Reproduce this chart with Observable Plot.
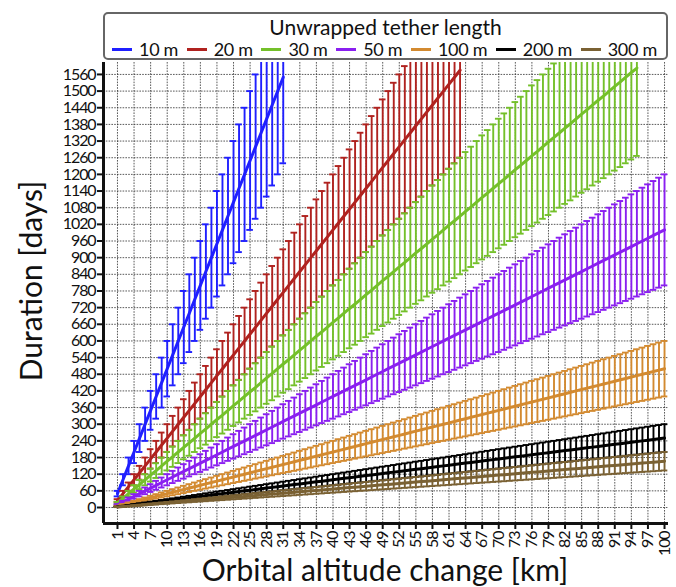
<!DOCTYPE html>
<html>
<head>
<meta charset="utf-8">
<script src="https://cdn.jsdelivr.net/npm/d3@7"></script>
<script src="https://cdn.jsdelivr.net/npm/@observablehq/plot@0.6"></script>
<style>
  body { margin: 0; background: #fff; }
  #wrap { position: relative; width: 676px; height: 587px; font-family: Lato, "Open Sans", sans-serif; color: #111; }
  #legend { position: absolute; left: 103px; top: 12px; width: 561px; height: 44px; border: 2px solid #666; border-radius: 5px; background: #fff; }
  #legend .title { position: absolute; left: 0; right: 0; top: 1px; text-align: center; font-size: 21px; line-height: 24px; }
  #legend .items { position: absolute; left: 7px; right: 9px; top: 25px; display: flex; justify-content: space-between; font-size: 18px; line-height: 20px; letter-spacing: -0.3px; }
  #legend .item { display: flex; align-items: center; gap: 7px; }
  #legend .sw { width: 20px; height: 3px; }
  .axlabel { position: absolute; font-size: 30px; line-height: 30px; white-space: nowrap; color: #111; }
  #ylab { left: 30px; top: 281px; transform: translate(-50%, -50%) rotate(-90deg); }
  #xlab { left: 385px; top: 569px; transform: translate(-50%, -50%); }
  svg g[aria-label="y-axis tick label"] text, svg g[aria-label="x-axis tick label"] text { letter-spacing: -1.1px; }
</style>
</head>
<body>
<div id="wrap">
  <div id="chart"></div>
  <div id="legend"><div class="title">Unwrapped tether length</div><div class="items" id="items"></div></div>
  <div class="axlabel" id="ylab">Duration [days]</div>
  <div class="axlabel" id="xlab">Orbital altitude change [km]</div>
</div>
<script>
// ---- data ----
const altitudeKm = [1,2,3,4,5,6,7,8,9,10,11,12,13,14,15,16,17,18,19,20,21,22,23,24,25,26,27,28,29,30,31,32,33,34,35,36,37,38,39,40,41,42,43,44,45,46,47,48,49,50,51,52,53,54,55,56,57,58,59,60,61,62,63,64,65,66,67,68,69,70,71,72,73,74,75,76,77,78,79,80,81,82,83,84,85,86,87,88,89,90,91,92,93,94,95,96,97,98,99,100];

const seriesNames = ["10 m", "20 m", "30 m", "50 m", "100 m", "200 m", "300 m"];
const seriesColors = ["#1f1fff", "#b0221f", "#74c02a", "#8a1ff0", "#d38a30", "#000000", "#7a6133"];

// mean duration [days] per km of altitude change (starting at 1 km)
const dur10 = [50,100,150,200,250,300,350,400,450,500,550,600,650,700,750,800,850,900,950,1000,1050,1100,1150,1200,1250,1300,1350,1400,1450,1500,1550];
const dur20 = [25,50,75,100,125,150,175,200,225,250,275,300,325,350,375,400,425,450,475,500,525,550,575,600,625,650,675,700,725,750,775,800,825,850,875,900,925,950,975,1000,1025,1050,1075,1100,1125,1150,1175,1200,1225,1250,1275,1300,1325,1350,1375,1400,1425,1450,1475,1500,1525,1550,1575];
const dur30 = [17,33,50,67,83,100,117,133,150,167,183,200,217,233,250,267,283,300,317,333,350,367,383,400,417,433,450,467,483,500,517,533,550,567,583,600,617,633,650,667,683,700,717,733,750,767,783,800,817,833,850,867,883,900,917,933,950,967,983,1000,1017,1033,1050,1067,1083,1100,1117,1133,1150,1167,1183,1200,1217,1233,1250,1267,1283,1300,1317,1333,1350,1367,1383,1400,1417,1433,1450,1467,1483,1500,1517,1533,1550,1567,1583];
const dur50 = [10,20,30,40,50,60,70,80,90,100,110,120,130,140,150,160,170,180,190,200,210,220,230,240,250,260,270,280,290,300,310,320,330,340,350,360,370,380,390,400,410,420,430,440,450,460,470,480,490,500,510,520,530,540,550,560,570,580,590,600,610,620,630,640,650,660,670,680,690,700,710,720,730,740,750,760,770,780,790,800,810,820,830,840,850,860,870,880,890,900,910,920,930,940,950,960,970,980,990,1000];
const dur100 = [5,10,15,20,25,30,35,40,45,50,55,60,65,70,75,80,85,90,95,100,105,110,115,120,125,130,135,140,145,150,155,160,165,170,175,180,185,190,195,200,205,210,215,220,225,230,235,240,245,250,255,260,265,270,275,280,285,290,295,300,305,310,315,320,325,330,335,340,345,350,355,360,365,370,375,380,385,390,395,400,405,410,415,420,425,430,435,440,445,450,455,460,465,470,475,480,485,490,495,500];
const dur200 = [2.5,5,7.5,10,12.5,15,17.5,20,22.5,25,27.5,30,32.5,35,37.5,40,42.5,45,47.5,50,52.5,55,57.5,60,62.5,65,67.5,70,72.5,75,77.5,80,82.5,85,87.5,90,92.5,95,97.5,100,102.5,105,107.5,110,112.5,115,117.5,120,122.5,125,127.5,130,132.5,135,137.5,140,142.5,145,147.5,150,152.5,155,157.5,160,162.5,165,167.5,170,172.5,175,177.5,180,182.5,185,187.5,190,192.5,195,197.5,200,202.5,205,207.5,210,212.5,215,217.5,220,222.5,225,227.5,230,232.5,235,237.5,240,242.5,245,247.5,250];
const dur300 = [1.7,3.3,5,6.7,8.3,10,11.7,13.3,15,16.7,18.3,20,21.7,23.3,25,26.7,28.3,30,31.7,33.3,35,36.7,38.3,40,41.7,43.3,45,46.7,48.3,50,51.7,53.3,55,56.7,58.3,60,61.7,63.3,65,66.7,68.3,70,71.7,73.3,75,76.7,78.3,80,81.7,83.3,85,86.7,88.3,90,91.7,93.3,95,96.7,98.3,100,101.7,103.3,105,106.7,108.3,110,111.7,113.3,115,116.7,118.3,120,121.7,123.3,125,126.7,128.3,130,131.7,133.3,135,136.7,138.3,140,141.7,143.3,145,146.7,148.3,150,151.7,153.3,155,156.7,158.3,160,161.7,163.3,165,166.7];

// relative half-height of the error bars (read as ±20 %)
const relError = [0.2, 0.2, 0.2, 0.2, 0.2, 0.2, 0.2];

const xTicks = [1,4,7,10,13,16,19,22,25,28,31,34,37,40,43,46,49,52,55,58,61,64,67,70,73,76,79,82,85,88,91,94,97,100];
const yTicks = [0,60,120,180,240,300,360,420,480,540,600,660,720,780,840,900,960,1020,1080,1140,1200,1260,1320,1380,1440,1500,1560];

// ---- build ----
const seriesValues = [dur10, dur20, dur30, dur50, dur100, dur200, dur300];
const xDomain = [-1.53, 100.72];
const yDomain = [-57.6, 1603];

const rowsBySeries = seriesValues.map((vals, s) =>
  vals.map((v, i) => ({x: altitudeKm[i], y: v, lo: v * (1 - relError[s]), hi: v * (1 + relError[s])}))
);

const capHalf = 0.6;
const marks = [
  Plot.gridX(xTicks, {stroke: "#333", strokeOpacity: 0.9, strokeWidth: 0.9, strokeDasharray: "1.6,1.2"}),
  Plot.gridY(yTicks, {stroke: "#333", strokeOpacity: 0.9, strokeWidth: 0.9, strokeDasharray: "1.6,1.2"})
];
rowsBySeries.forEach((rows, s) => {
  const c = seriesColors[s];
  marks.push(
    Plot.ruleX(rows, {x: "x", y1: "lo", y2: "hi", stroke: c, strokeWidth: 1.9, clip: true}),
    Plot.ruleY(rows, {y: "hi", x1: d => d.x - capHalf, x2: d => d.x + capHalf, stroke: c, strokeWidth: 1.9, clip: true}),
    Plot.ruleY(rows, {y: "lo", x1: d => d.x - capHalf, x2: d => d.x + capHalf, stroke: c, strokeWidth: 1.9, clip: true}),
    Plot.line(rows, {x: "x", y: "y", stroke: c, strokeWidth: 3, clip: true})
  );
});
marks.push(
  Plot.axisY({ticks: yTicks, tickFormat: d => String(d), tickSize: 6, tickPadding: 2, strokeWidth: 2, label: null, fontSize: 16}),
  Plot.axisX({ticks: xTicks, tickFormat: d => String(d), tickSize: 6, tickPadding: 2, strokeWidth: 2, tickRotate: -90, label: null, fontSize: 16}),
  Plot.ruleX([xDomain[0]], {stroke: "#111", strokeWidth: 3}),
  Plot.ruleY([yDomain[0]], {stroke: "#111", strokeWidth: 3})
);

const chart = Plot.plot({
  width: 676,
  height: 587,
  marginLeft: 103,
  marginRight: 8,
  marginTop: 62,
  marginBottom: 64,
  style: {fontFamily: "Lato, 'Open Sans', sans-serif", fontSize: "16px", color: "#111", background: "#fff"},
  x: {domain: xDomain},
  y: {domain: yDomain},
  marks
});
document.getElementById("chart").appendChild(chart);

const items = document.getElementById("items");
seriesNames.forEach((n, i) => {
  const it = document.createElement("div");
  it.className = "item";
  it.innerHTML = `<span class="sw" style="background:${seriesColors[i]}"></span><span>${n}</span>`;
  items.appendChild(it);
});
</script>
</body>
</html>
